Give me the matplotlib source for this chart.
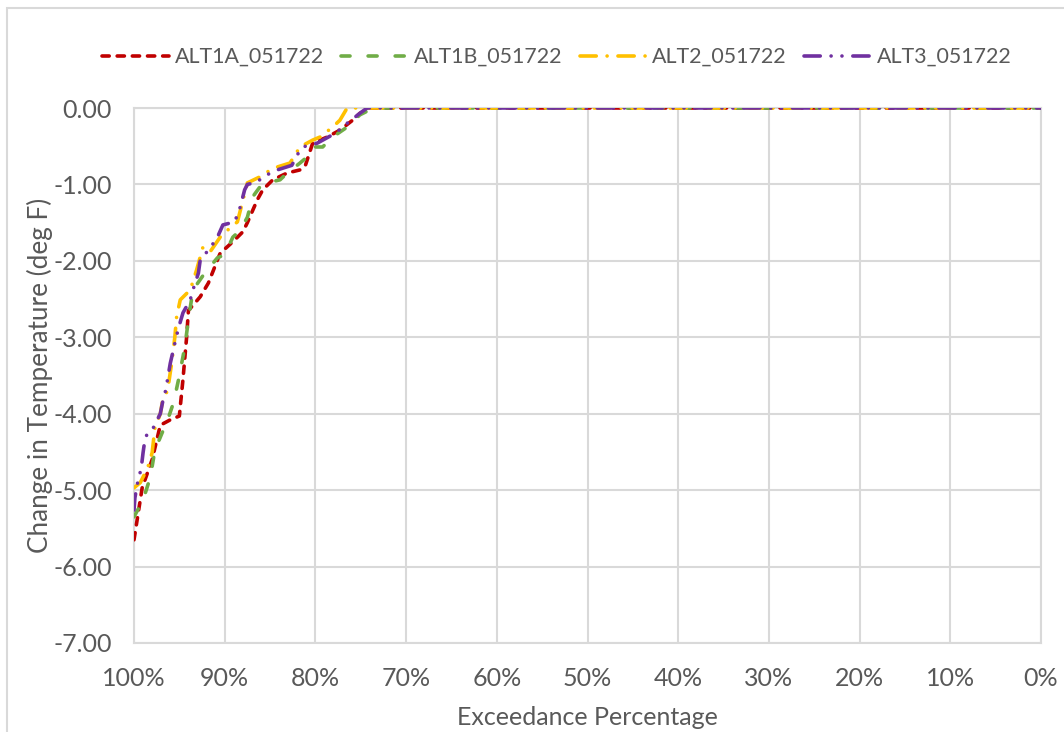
import matplotlib
matplotlib.use("Agg")
import matplotlib.pyplot as plt
from matplotlib.patches import Rectangle
from matplotlib.ticker import FuncFormatter

# ---- data (exceedance %, change in temperature deg F) ----
alt1a_x = [100, 99.1, 98.0, 97.1, 96.0, 95.0, 94.6, 94.2, 94.0, 92.7, 91.8, 90.5, 89.1, 88.0, 87.5,
           86.4, 85.8, 84.7, 83.1, 81.7, 81.1, 80.3, 78.7, 77.3, 75.9, 75.1, 74.0, 0]
alt1a_y = [-5.65, -4.97, -4.60, -4.15, -4.08, -4.03, -3.55, -3.00, -2.65, -2.47, -2.29, -1.90, -1.75, -1.62, -1.50,
           -1.20, -1.07, -0.94, -0.85, -0.81, -0.75, -0.46, -0.38, -0.29, -0.16, -0.07, 0.00, 0.00]

alt1b_x = [100, 99.6, 99.0, 98.2, 97.7, 96.9, 96.4, 95.8, 95.5, 95.1, 94.4, 94.0, 93.5, 92.2, 90.8, 90.0,
           89.1, 88.3, 87.5, 86.9, 86.1, 85.0, 83.9, 83.1, 81.7, 80.9, 80.3, 79.2, 78.1, 76.5, 75.1, 73.6, 0]
alt1b_y = [-5.35, -5.26, -5.13, -4.83, -4.48, -4.25, -4.12, -3.91, -3.78, -3.56, -3.13, -2.77, -2.38, -2.16, -1.96, -1.92,
           -1.69, -1.60, -1.43, -1.16, -1.03, -0.97, -0.94, -0.85, -0.72, -0.64, -0.51, -0.51, -0.38, -0.25, -0.09, 0.00, 0.00]

alt2_x = [100, 99.3, 98.5, 98.0, 97.7, 97.1, 96.8, 96.3, 95.8, 95.5, 95.3, 94.9, 93.8, 93.1, 92.4, 91.6,
          90.5, 89.7, 88.6, 87.5, 86.1, 84.7, 82.8, 81.7, 80.3, 79.5, 78.1, 77.3, 76.5, 0]
alt2_y = [-4.97, -4.90, -4.71, -4.51, -4.19, -4.00, -3.80, -3.70, -3.30, -3.00, -2.73, -2.51, -2.38, -2.12, -1.82, -1.88,
          -1.69, -1.60, -1.49, -0.98, -0.90, -0.79, -0.72, -0.51, -0.42, -0.38, -0.25, -0.16, 0.00, 0.00]

alt3_x = [100, 99.9, 99.6, 99.2, 99.0, 98.8, 98.5, 97.9, 97.1, 96.8, 96.5, 96.0, 95.5, 95.1, 94.6, 93.8,
          93.5, 92.9, 92.7, 91.6, 90.8, 90.2, 88.9, 88.3, 87.8, 87.5, 86.4, 85.8, 84.2, 82.6, 81.7, 81.4,
          79.8, 77.8, 76.5, 75.1, 74.3, 0]
alt3_y = [-5.26, -5.10, -4.90, -4.71, -4.51, -4.34, -4.25, -4.19, -4.00, -3.82, -3.69, -3.34, -3.08, -2.88, -2.68, -2.51,
          -2.38, -2.16, -1.99, -1.83, -1.69, -1.53, -1.49, -1.30, -1.07, -1.00, -0.97, -0.90, -0.81, -0.75, -0.55, -0.51,
          -0.46, -0.33, -0.20, -0.07, 0.00, 0.00]

series_names = ["ALT1A_051722", "ALT1B_051722", "ALT2_051722", "ALT3_051722"]
x_ticks = [100, 90, 80, 70, 60, 50, 40, 30, 20, 10, 0]
y_ticks = [0, -1, -2, -3, -4, -5, -6, -7]

# ---- styling ----
FONT = "Lato"
TXT = "#595959"
GRID = "#D9D9D9"
colors = ["#C00000", "#70AD47", "#FFC000", "#7030A0"]
styles = [(0, (2.0, 2.2)), (0, (2.5, 5.0)), (0, (4.5, 3.0, 0.01, 3.0)),
          (0, (4.5, 3.0, 0.01, 3.0, 0.01, 3.0))]
lw = 2.6
FS = 18

plt.rcParams["font.family"] = [FONT, "DejaVu Sans"]

fig = plt.figure(figsize=(10.64, 7.32), dpi=100)
# chart-area border (extends beyond the bottom/right of the image)
fig.patches.append(Rectangle((7 / 1064, -0.05), 1.2, 1 - 8 / 732 + 0.05, transform=fig.transFigure,
                             fill=False, edgecolor="#D9D9D9", linewidth=1.5))

ax = fig.add_axes([134 / 1064, 1 - 643 / 732, (1041 - 134) / 1064, (643 - 108) / 732])

data = [(alt1a_x, alt1a_y), (alt1b_x, alt1b_y), (alt2_x, alt2_y), (alt3_x, alt3_y)]
for (xs, ys), name, c, ls in zip(data, series_names, colors, styles):
    ax.plot(xs, ys, color=c, linestyle=ls, linewidth=lw, label=name,
            dash_capstyle="round", solid_capstyle="round", zorder=3)

ax.set_xlim(100, 0)
ax.set_ylim(-7, 0)
ax.set_xticks(x_ticks)
ax.set_yticks(y_ticks)
ax.xaxis.set_major_formatter(FuncFormatter(lambda v, p: f"{v:.0f}%"))
ax.yaxis.set_major_formatter(FuncFormatter(lambda v, p: f"{v:.2f}"))
ax.grid(True, color=GRID, linewidth=1.5, zorder=0)
for s in ax.spines.values():
    s.set_color(GRID)
    s.set_linewidth(1.5)
ax.tick_params(length=0, labelsize=FS, labelcolor=TXT)
ax.tick_params(axis="y", pad=16)
ax.tick_params(axis="x", pad=17)

ax.set_xlabel("Exceedance Percentage", fontsize=FS, color=TXT, labelpad=12)
ax.set_ylabel("Change in Temperature (deg F)", fontsize=18.8, color=TXT, labelpad=0)

leg = fig.legend(loc="center", bbox_to_anchor=(557 / 1064, 1 - 57 / 732), ncol=4, frameon=False,
                 fontsize=15.4, handlelength=3.1, columnspacing=0.8, handletextpad=0.3,
                 labelcolor=TXT)

fig.savefig("out.png", dpi=100)
